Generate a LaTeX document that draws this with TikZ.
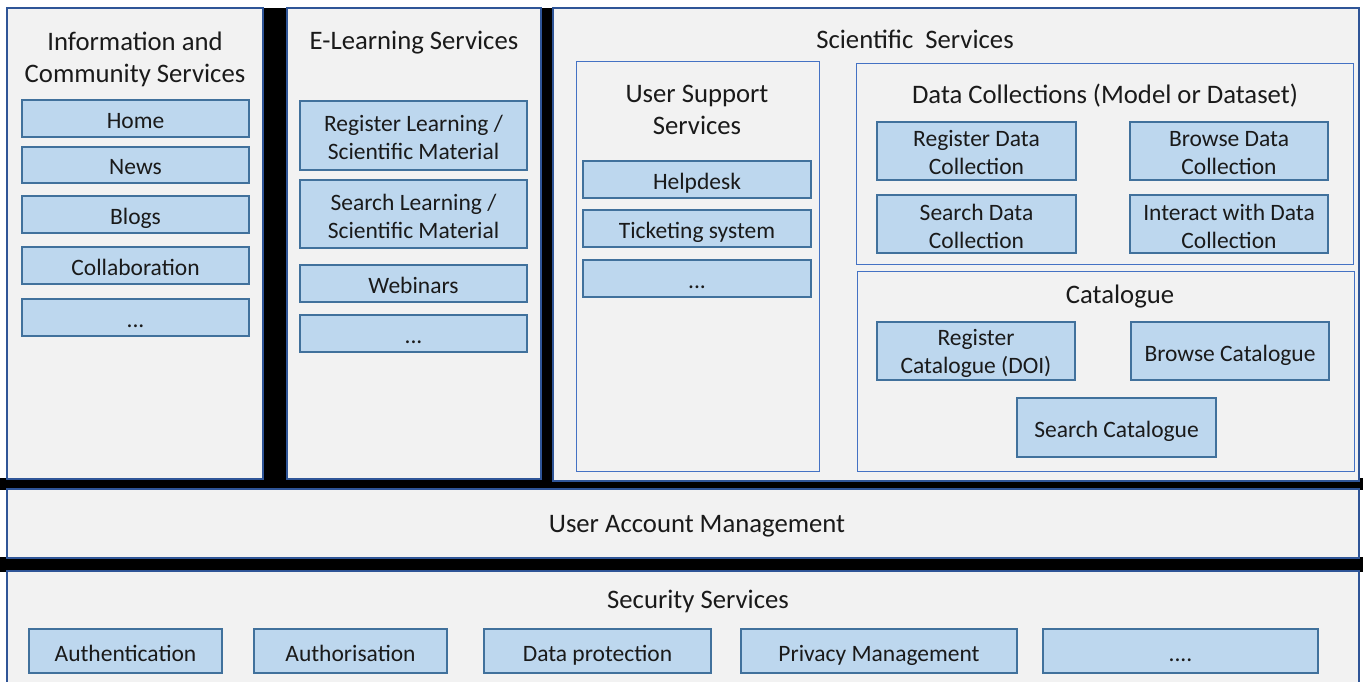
\documentclass[tikz,border=0pt]{standalone}
\usepackage{fontspec}
\setmainfont{Carlito}
\definecolor{panelfill}{HTML}{F2F2F2}
\definecolor{panelline}{HTML}{2F5597}
\definecolor{frameline}{HTML}{4472C4}
\definecolor{itemfill}{HTML}{BDD7EE}
\definecolor{itemline}{HTML}{41719C}
\definecolor{txt}{HTML}{1A1A1A}
% box with two-line text
\newcommand\bx[7]{\node[#2, minimum width={#5-#3}, minimum height={#6-#4}] (#1) at ({(#3+#5)/2},{(#4+#6)/2}) {};
  \node[itemtext] (#1t) at ([yshift=-2pt]#1.center) {#7};}
% box with one-line text
\newcommand\bxs[7]{\node[#2, minimum width={#5-#3}, minimum height={#6-#4}] (#1) at ({(#3+#5)/2},{(#4+#6)/2}) {};
  \node[itemtext, text height=17pt, text depth=1pt] (#1t) at ([yshift=-2pt]#1.center) {#7};}
\tikzset{
  panel/.style={draw=panelline, fill=panelfill, line width=1.2pt, inner sep=0pt},
  frame/.style={draw=frameline, fill=panelfill, line width=1pt, inner sep=0pt},
  item/.style={draw=itemline, fill=itemfill, line width=1.2pt, inner sep=0pt},
  itemtext/.style={inner sep=0pt, align=center, text=txt, font=\fontsize{23.5}{28}\selectfont},
  title/.style={inner sep=0pt, align=center, text=txt, font=\fontsize{26.7}{32}\selectfont}
}
\begin{document}
\begin{tikzpicture}[x=1pt,y=-1pt]
\useasboundingbox (0,0) rectangle (1363,682);
\fill[white] (0,0) rectangle (1363,682);
% black separators
\fill[black] (0,478) rectangle (1363,490);
\fill[black] (0,557) rectangle (1363,572);
\fill[black] (262,8) rectangle (288,490);
\fill[black] (540,8) rectangle (554,490);
% panels
\bx{info}{panel}{7}{8}{263}{479}{}
\bx{elearn}{panel}{287}{8}{541}{479}{}
\bx{sci}{panel}{553}{8}{1359}{481}{}
\bx{uam}{panel}{7}{489}{1359}{558}{}
\bx{sec}{panel}{7}{571}{1359}{690}{}
% panel titles
\node[title] (infoT) at (135,59) {Information and\\Community Services};
\node[title] (elearnT) at (414,43) {E-Learning Services};
\node[title] (sciT) at (915,39) {Scientific~ Services};
\node[title] (uamT) at (697,526) {User Account Management};
\node[title] (secT) at (698,601) {Security Services};
% Information and Community
\bxs{home}{item}{22}{100}{249}{137}{Home}
\bxs{news}{item}{22}{147}{249}{183}{News}
\bxs{blogs}{item}{22}{196}{249}{233}{Blogs}
\bxs{collab}{item}{22}{247}{249}{284}{Collaboration}
\bxs{infodots}{item}{22}{299}{249}{336}{...}
% E-Learning
\bx{regL}{item}{300}{101}{527}{170}{Register Learning /\\Scientific Material}
\bx{srchL}{item}{300}{180}{527}{248}{Search Learning /\\Scientific Material}
\bxs{web}{item}{300}{265}{527}{302}{Webinars}
\bxs{eldots}{item}{300}{315}{527}{352}{...}
% Scientific: User support
\bx{usf}{frame}{576}{62}{819}{471}{}
\node[title] (usT) at (697,110) {User Support\\Services};
\bxs{help}{item}{583}{161}{811}{198}{Helpdesk}
\bxs{ticket}{item}{583}{210}{811}{247}{Ticketing system}
\bxs{usdots}{item}{583}{260}{811}{297}{...}
% Data collections
\bx{dcf}{frame}{856}{64}{1353}{264}{}
\node[title] (dcT) at (1105,96) {Data Collections (Model or Dataset)};
\bx{regDC}{item}{877}{122}{1076}{180}{Register Data\\Collection}
\bx{brDC}{item}{1130}{122}{1328}{180}{Browse Data\\Collection}
\bx{srDC}{item}{877}{195}{1076}{253}{Search Data\\Collection}
\bx{intDC}{item}{1130}{195}{1328}{253}{Interact with Data\\Collection}
% Catalogue
\bx{catf}{frame}{857}{271}{1354}{471}{}
\node[title] (catT) at (1120,297) {Catalogue};
\bx{regCat}{item}{877}{322}{1075}{380}{Register\\Catalogue (DOI)}
\bxs{brCat}{item}{1131}{322}{1329}{380}{Browse Catalogue}
\bxs{srCat}{item}{1017}{398}{1216}{457}{Search Catalogue}
% Security items
\bxs{authn}{item}{29}{629}{222}{673}{Authentication}
\bxs{authz}{item}{254}{629}{447}{673}{Authorisation}
\bxs{dprot}{item}{484}{629}{711}{673}{Data protection}
\bxs{priv}{item}{741}{629}{1017}{673}{Privacy Management}
\bxs{secdots}{item}{1043}{629}{1318}{673}{....}
\end{tikzpicture}
\end{document}
